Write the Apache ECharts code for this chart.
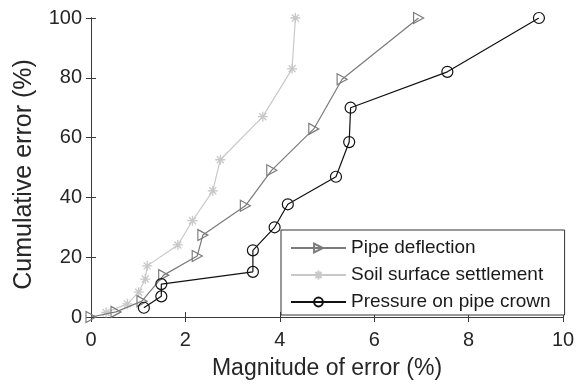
<!DOCTYPE html>
<html>
<head>
<meta charset="utf-8">
<script src="https://cdn.jsdelivr.net/npm/echarts@6/dist/echarts.min.js"></script>
<style>html,body{margin:0;padding:0;background:#fff}#c{width:579px;height:385px}</style>
</head>
<body>
<div id="c"></div>
<script>
const seriesNames = ['Pipe deflection', 'Soil surface settlement', 'Pressure on pipe crown'];
const pipeX = [0, 0.53, 1.08, 1.54, 2.25, 2.37, 3.27, 3.83, 4.72, 5.32, 6.94];
const pipeY = [0, 1.7, 5.3, 14, 20.4, 27.4, 37.2, 49.1, 62.9, 79.5, 100];
const soilX = [0.32, 0.77, 1.01, 1.15, 1.19, 1.84, 2.15, 2.58, 2.74, 3.64, 4.26, 4.33];
const soilY = [1.5, 4.4, 8.3, 12.7, 17.1, 24.1, 32.2, 42.2, 52.6, 67, 83, 100];
const presX = [1.12, 1.49, 1.49, 3.43, 3.43, 3.89, 4.17, 5.19, 5.47, 5.50, 7.55, 9.49];
const presY = [3.1, 6.9, 11, 15.1, 22.3, 30, 37.7, 46.9, 58.5, 70, 82, 100];
const xTicks = [0, 2, 4, 6, 8, 10];
const yTicks = [0, 20, 40, 60, 80, 100];

const pair = (xs, ys) => xs.map((x, i) => [x, ys[i]]);
const axisCol = '#3a3a3a';
const font = 'Liberation Sans, Arial, sans-serif';

const chart = echarts.init(document.getElementById('c'), null, {renderer: 'canvas'});
const baseX = {
  type: 'value', min: xTicks[0], max: xTicks[xTicks.length - 1], interval: 2,
  axisLine: {show: true, lineStyle: {color: axisCol, width: 1}},
  axisTick: {show: true, inside: true, length: 5, lineStyle: {color: axisCol}},
  splitLine: {show: false}
};
const baseY = {
  type: 'value', min: yTicks[0], max: yTicks[yTicks.length - 1], interval: 20,
  axisLine: {show: true, lineStyle: {color: axisCol, width: 1}},
  axisTick: {show: true, inside: true, length: 5, lineStyle: {color: axisCol}},
  splitLine: {show: false}
};
chart.setOption({
  animation: false,
  grid: {left: 91, right: 16, top: 18, bottom: 65, containLabel: false},
  legend: {
    orient: 'vertical', left: 281, top: 230,
    padding: [8, 14, 3, 9],
    itemWidth: 55, itemHeight: 11, itemGap: 7,
    backgroundColor: '#fff', borderColor: '#333', borderWidth: 1,
    textStyle: {fontFamily: font, fontSize: 19, color: '#1a1a1a', lineHeight: 20},
    data: seriesNames
  },
  xAxis: [
    Object.assign({}, baseX, {
      position: 'bottom',
      name: 'Magnitude of error (%)', nameLocation: 'middle', nameGap: 40,
      nameTextStyle: {fontFamily: font, fontSize: 23, color: '#262626'},
      axisLabel: {show: true, margin: 13, fontFamily: font, fontSize: 20, color: '#262626'}
    }),
    Object.assign({}, baseX, {position: 'top', axisLabel: {show: false}})
  ],
  yAxis: [
    Object.assign({}, baseY, {
      position: 'left',
      name: 'Cumulative error (%)', nameLocation: 'middle', nameGap: 54,
      nameTextStyle: {fontFamily: font, fontSize: 25, color: '#262626', padding: [0, 14, 0, 0]},
      axisLabel: {show: true, margin: 9, fontFamily: font, fontSize: 20, color: '#262626'}
    }),
    Object.assign({}, baseY, {position: 'right', axisLabel: {show: false}})
  ],
  series: [
    {
      name: seriesNames[0], type: 'line', data: pair(pipeX, pipeY),
      symbol: 'path://M0,0 L10,5 L0,10 Z', symbolSize: [10, 11], symbolKeepAspect: false,
      lineStyle: {color: '#7a7a7a', width: 1.2},
      itemStyle: {color: 'none', borderColor: '#7a7a7a', borderWidth: 1.2},
      z: 3
    },
    {
      name: seriesNames[1], type: 'line', data: pair(soilX, soilY),
      symbol: 'path://M5,0 L5,10 M0,5 L10,5 M1.5,1.5 L8.5,8.5 M8.5,1.5 L1.5,8.5', symbolSize: 10,
      lineStyle: {color: '#c8c8c8', width: 1.2},
      itemStyle: {color: 'none', borderColor: '#c8c8c8', borderWidth: 1.3},
      z: 2
    },
    {
      name: seriesNames[2], type: 'line', data: pair(presX, presY),
      symbol: 'circle', symbolSize: 11,
      lineStyle: {color: '#111', width: 1.2},
      itemStyle: {color: 'none', borderColor: '#111', borderWidth: 1.2},
      z: 4
    }
  ]
});
</script>
</body>
</html>
